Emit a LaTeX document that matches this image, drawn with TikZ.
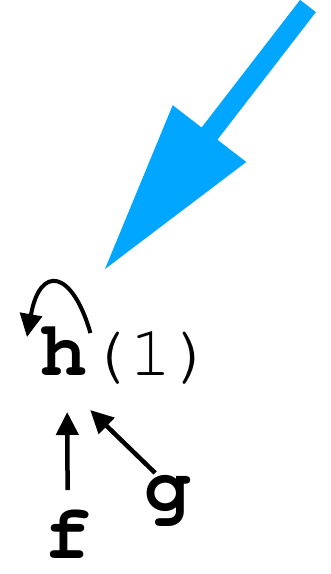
\documentclass[tikz,border=0pt]{standalone}
\usepackage{fontspec}
\usetikzlibrary{arrows.meta}
\newfontfamily\monofam{TeX Gyre Cursor}
\definecolor{arrowblue}{RGB}{0,166,255}
\begin{document}
\begin{tikzpicture}[x=1pt,y=-1pt,
  lbl/.style={inner sep=0pt,anchor=base west,font=\monofam\fontsize{72}{72}\selectfont},
  blbl/.style={lbl,font=\monofam\bfseries\fontsize{78}{78}\selectfont},
  blk/.style={line width=4.5pt,-{Triangle[length=23pt,width=22pt]}}]
\useasboundingbox (0,0) rectangle (330,574);
% big blue arrow
\fill[arrowblue] (300.1,-0.1) -- (315.9,12.1) -- (217.4,139.7) -- (246.3,162) -- (105,269) -- (172.7,105.2) -- (201.6,127.5) -- cycle;
% labels
\node[blbl] (h) at (40,375) {h};
\node[lbl] (one) at ([xshift=-1pt]h.base east) {(1)};
\node[blbl] (f) at (44,558) {f};
\node[blbl] (g) at (144,510) {g};
% connectors
\draw[blk] ([yshift=68pt]f.base) -- ([xshift=3.6pt,yshift=-37pt]h.base);
\draw[blk] ([xshift=-12.4pt,yshift=37pt]g.base) -- ([xshift=26.6pt,yshift=-35pt]h.base);
\draw[blk,line width=4pt] ([xshift=3.2pt,yshift=42pt]h.base east) .. controls +(-18,-63) and +(13,-73) .. ([xshift=-13pt,yshift=38pt]h.base west);
\end{tikzpicture}
\end{document}
